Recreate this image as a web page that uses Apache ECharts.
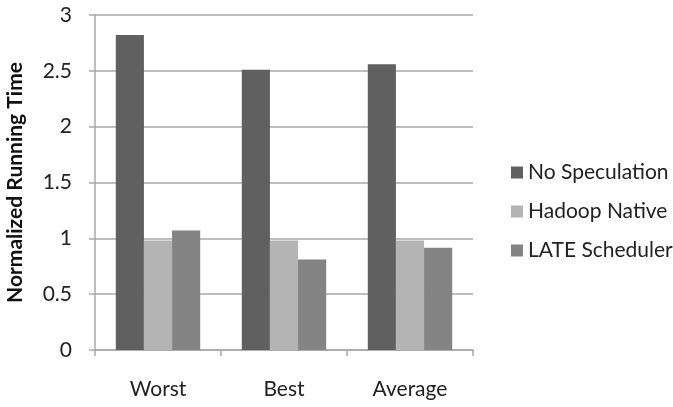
<!DOCTYPE html>
<html>
<head>
<meta charset="utf-8">
<script src="https://cdn.jsdelivr.net/npm/echarts@6/dist/echarts.min.js"></script>
<style>html,body{margin:0;padding:0;background:#fff}#c{width:673px;height:407px}</style>
</head>
<body>
<div id="c"></div>
<script>
var categories = ["Worst", "Best", "Average"];
var noSpeculation = [2.82, 2.51, 2.56];
var hadoopNative = [0.98, 0.98, 0.98];
var lateScheduler = [1.07, 0.81, 0.915];
var seriesNames = ["No Speculation", "Hadoop Native", "LATE Scheduler"];
var colors = ["#606060", "#b4b4b4", "#848484"];

var chart = echarts.init(document.getElementById('c'));
var font = 'Lato, "Open Sans", sans-serif';
var gridColor = '#a8a8a8';
chart.setOption({
  animation: false,
  textStyle: {fontFamily: font},
  grid: {left: 95, right: 200, top: 15, bottom: 57, containLabel: false, outerBoundsMode: 'none'},
  legend: {
    orient: 'vertical', left: 506, top: 157,
    icon: 'rect', itemWidth: 12, itemHeight: 12, itemGap: 18, itemTextGap: 7,
    textStyle: {fontSize: 21, color: '#222', fontFamily: font},
    data: seriesNames
  },
  xAxis: {
    type: 'category', data: categories,
    axisLine: {lineStyle: {color: gridColor, width: 1.5}},
    axisTick: {show: true, length: 6, lineStyle: {color: gridColor, width: 1.5}},
    axisLabel: {fontSize: 21, color: '#222', margin: 29, fontFamily: font}
  },
  yAxis: {
    type: 'value', min: 0, max: 3, interval: 0.5,
    name: 'Normalized Running Time', nameLocation: 'middle', nameGap: 69, nameRotate: 90,
    nameTextStyle: {fontSize: 21, fontWeight: 'bold', color: '#111', fontFamily: font},
    axisLine: {show: true, lineStyle: {color: gridColor, width: 1.5}},
    axisTick: {show: true, length: 6, lineStyle: {color: gridColor, width: 1.5}},
    axisLabel: {fontSize: 21, color: '#222', margin: 23, fontFamily: font},
    splitLine: {lineStyle: {color: gridColor, width: 1.5}}
  },
  series: [
    {name: seriesNames[0], type: 'bar', data: noSpeculation, itemStyle: {color: colors[0]}, barGap: '0%', barCategoryGap: '33%'},
    {name: seriesNames[1], type: 'bar', data: hadoopNative, itemStyle: {color: colors[1]}},
    {name: seriesNames[2], type: 'bar', data: lateScheduler, itemStyle: {color: colors[2]}}
  ]
});
</script>
</body>
</html>
